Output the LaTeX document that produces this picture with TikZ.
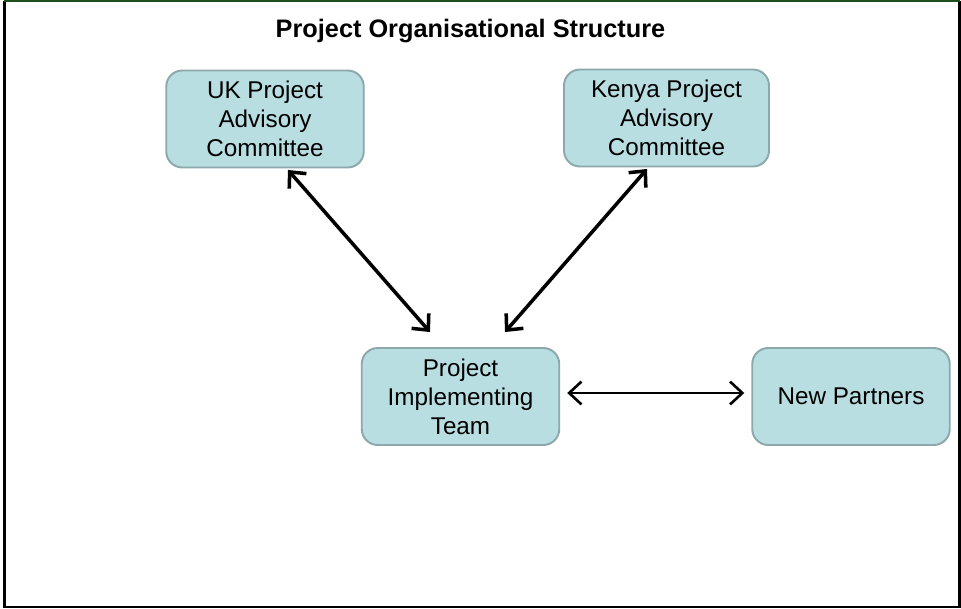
\documentclass[tikz,border=0pt]{standalone}
\usepackage{fontspec}
\setmainfont{Liberation Sans}
\usetikzlibrary{arrows.meta}
\definecolor{boxfill}{RGB}{184,222,225}
\definecolor{boxline}{RGB}{140,168,171}
\definecolor{framegreen}{RGB}{30,80,30}
\begin{document}
\begin{tikzpicture}[
        box/.style={rectangle, rounded corners=0.32cm, minimum width=3.95cm, minimum height=1.94cm, align=center, fill=boxfill, draw=boxline, line width=1.1pt, font=\fontsize{13.8}{16.5}\selectfont},
        title/.style={font=\fontsize{14.4}{17}\selectfont\bfseries},
        arrow/.style={{Straight Barb[length=7pt,width=13pt]}-{Straight Barb[length=7pt,width=13pt]}, line width=2pt}
    ]
        \useasboundingbox (0,0) rectangle (19.22,-12.18);
        \draw[line width=1.2pt] (0.09,-0.02) -- (0.09,-12.14) -- (19.19,-12.14) -- (19.19,-0.02);
        \draw[framegreen, line width=1.2pt] (0.09,-0.02) -- (19.19,-0.02);

        \node[title, anchor=base] (title) at (9.41,-0.74) {Project Organisational Structure};

        \node[box] (uk) at (5.30,-2.38) {UK Project\\Advisory\\Committee};
        \node[box, minimum width=4.1cm] (kenya) at (13.33,-2.36) {Kenya Project\\Advisory\\Committee};
        \node[box] (team) at (9.21,-7.93) {Project\\Implementing\\Team};
        \node[box] (partners) at (17.02,-7.93) {New Partners};

        \draw[arrow] ([xshift=0.46cm,yshift=-0.03cm]uk.south) -- ([xshift=-0.61cm,yshift=0.3cm]team.north);
        \draw[arrow] ([xshift=-0.39cm,yshift=-0.03cm]kenya.south) -- ([xshift=0.89cm,yshift=0.3cm]team.north);
        \draw[arrow, line width=1.5pt] ([xshift=0.14cm,yshift=0.07cm]team.east) -- ([xshift=-0.14cm,yshift=0.07cm]partners.west);
    \end{tikzpicture}
\end{document}
